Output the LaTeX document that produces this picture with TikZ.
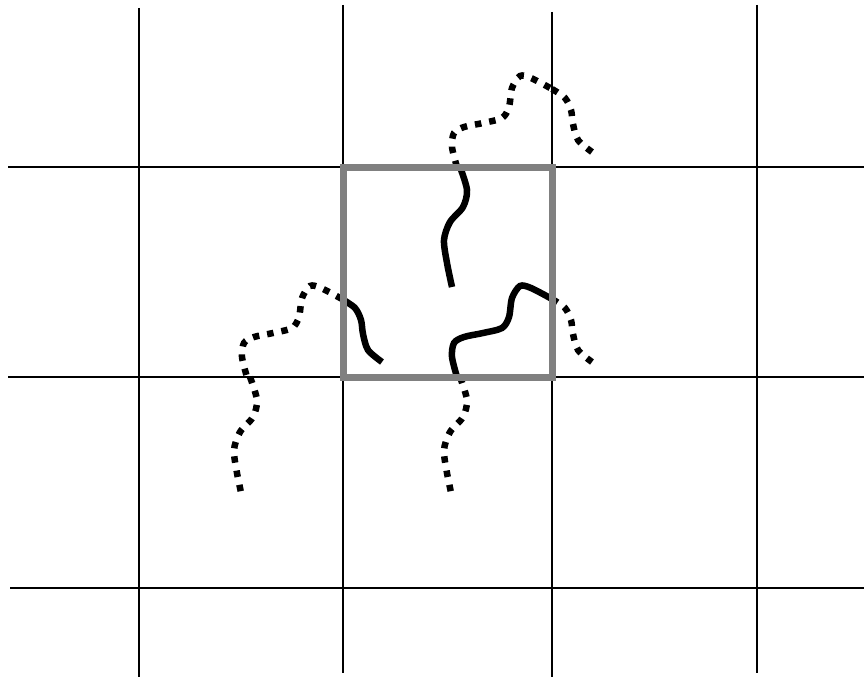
\documentclass[tikz,border=0pt]{standalone}
\definecolor{boxgray}{RGB}{128,128,128}
\begin{document}
\begin{tikzpicture}[x=1pt,y=-1pt
,gridline/.style={color=black,line width=1.6pt}
,cellbox/.style={color=boxgray,line width=7pt}
,chainsolid/.style={color=black,line width=6.5pt}
,chainimage/.style={color=black,line width=6.5pt,dash pattern=on 6.5pt off 8pt}
]
\useasboundingbox (0,0) rectangle (864,677);
% lattice of periodic cells
\draw[gridline] (139,8) -- (139,677);
\draw[gridline] (343,5) -- (343,673);
\draw[gridline] (552,12) -- (552,677);
\draw[gridline] (757,5) -- (757,673);
\draw[gridline] (8,167) -- (864,167);
\draw[gridline] (8,377) -- (864,377);
\draw[gridline] (10,588) -- (864,588);
% chain pieces inside the central cell
\draw[chainsolid] plot[smooth] coordinates {(452,287) (447,263) (444,240) (450,222) (463,207) (467,190) (460,167)};
\draw[chainsolid] plot[smooth] coordinates {(457,377) (452,357) (454,343) (464,337) (483,333) (502,328) (509,317) (512,298) (520,286) (531,288) (552,299)};
\draw[chainsolid] plot[smooth] coordinates {(342,299) (355,308) (361,320) (363,334) (368,350) (382,362)};
% periodic images
\draw[chainimage,shift={(0,-210)}] plot[smooth] coordinates {(457,377) (452,357) (454,343) (464,337) (483,333) (502,328) (509,317) (512,298) (520,286) (531,288) (552,299)};
\draw[chainimage,shift={(210,-210)}] plot[smooth] coordinates {(342,299) (355,308) (361,320) (363,334) (368,350) (382,362)};
\draw[chainimage,shift={(210,0)}] plot[smooth] coordinates {(342,299) (355,308) (361,320) (363,334) (368,350) (382,362)};
\draw[chainimage,shift={(0,210)}] plot[smooth] coordinates {(460,167) (467,190) (463,207) (450,222) (444,240) (447,263) (452,287)};
\draw[chainimage,shift={(-210,0)}] plot[smooth] coordinates {(552,299) (531,288) (520,286) (512,298) (509,317) (502,328) (483,333) (464,337) (454,343) (452,357) (457,377)};
\draw[chainimage,shift={(-210,210)}] plot[smooth] coordinates {(460,167) (467,190) (463,207) (450,222) (444,240) (447,263) (452,287)};
% simulation cell
\draw[cellbox] (343,167) rectangle (552,377);
\end{tikzpicture}
\end{document}
